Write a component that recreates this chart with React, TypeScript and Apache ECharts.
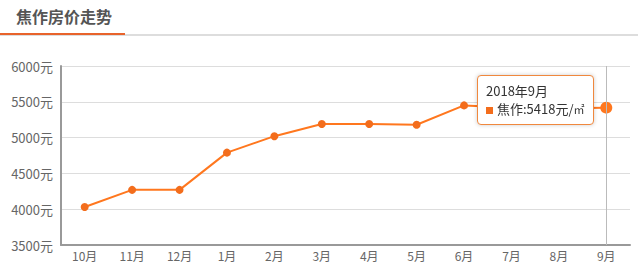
import React, { useEffect, useRef } from "react";
import * as echarts from "echarts";

const titleText = "焦作房价走势";
const seriesName = "焦作";
const yearLabel = "2018年";
const categories = ["10月", "11月", "12月", "1月", "2月", "3月", "4月", "5月", "6月", "7月", "8月", "9月"];
const prices = [4030, 4270, 4270, 4790, 5020, 5190, 5190, 5180, 5450, 5420, 5410, 5418];
const yMin = 3500;
const yMax = 6000;
const yStep = 500;

const ORANGE = "#f36d1c";

export default function App() {
  const ref = useRef<HTMLDivElement>(null);
  useEffect(() => {
    document.body.style.margin = "0";
    if (!ref.current) return;
    const chart = echarts.init(ref.current, undefined, { renderer: "svg" });
    const font = "'Noto Sans CJK SC', 'Noto Sans', sans-serif";
    chart.setOption({
      animation: false,
      textStyle: { fontFamily: font },
      graphic: [
        {
          type: "text",
          left: 16,
          top: 8,
          style: { text: titleText, fill: "#555", font: `bold 16px ${font}` },
        },
        { type: "rect", shape: { x: 0, y: 34, width: 638, height: 2 }, style: { fill: "#dddddd" } },
        { type: "rect", shape: { x: 0, y: 33, width: 125, height: 2 }, style: { fill: "#e8632b" } },
      ],
      grid: { left: 61, right: 8, top: 66, bottom: 26 },
      tooltip: {
        trigger: "axis",
        alwaysShowContent: true,
        transitionDuration: 0,
        backgroundColor: "#fff",
        borderColor: "#f0883e",
        borderWidth: 1,
        borderRadius: 4,
        padding: [6, 8],
        extraCssText: "box-shadow: 0 0 4px rgba(0,0,0,0.2); line-height:18px;",
        textStyle: { color: "#333", fontSize: 13, fontFamily: font },
        position: () => [477, 75],
        axisPointer: { type: "line", lineStyle: { color: "#bbb", width: 1, type: "solid" } },
        formatter: (params: any) => {
          const p = Array.isArray(params) ? params[0] : params;
          return `${yearLabel}${p.name}<br/><span style="display:inline-block;width:7px;height:7px;background:${ORANGE};margin-right:4px;vertical-align:middle"></span>${p.seriesName}:${p.value}元/<span style="font-size:11px">㎡</span>`;
        },
      },
      xAxis: {
        type: "category",
        data: categories,
        boundaryGap: true,
        axisLine: { lineStyle: { color: "#999", width: 2 } },
        axisTick: { alignWithLabel: true, length: 4, lineStyle: { color: "#ccc" } },
        axisLabel: { color: "#666", fontSize: 12, margin: 4 },
      },
      yAxis: {
        type: "value",
        min: yMin,
        max: yMax,
        interval: yStep,
        axisLine: { show: true, lineStyle: { color: "#999", width: 2 } },
        axisTick: { show: false },
        axisLabel: { color: "#666", fontSize: 13, margin: 8, formatter: (v: number) => `${v}元` },
        splitLine: { lineStyle: { color: "#ddd", width: 1 } },
      },
      series: [
        {
          name: seriesName,
          type: "line",
          data: prices,
          symbol: "circle",
          symbolSize: 8,
          itemStyle: { color: ORANGE },
          lineStyle: { color: ORANGE, width: 2 },
          emphasis: { scale: 1.5 },
        },
      ],
    });
    const last = categories.length - 1;
    chart.dispatchAction({ type: "showTip", seriesIndex: 0, dataIndex: last });
    chart.dispatchAction({ type: "highlight", seriesIndex: 0, dataIndex: last });
    return () => chart.dispose();
  }, []);
  return <div ref={ref} style={{ width: 638, height: 271, background: "#fff" }} />;
}
